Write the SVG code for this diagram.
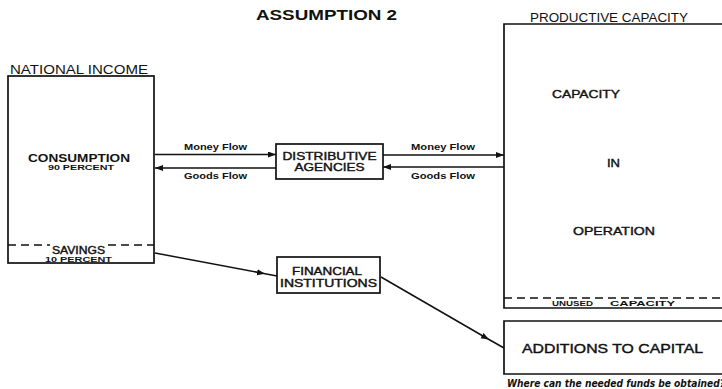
<svg xmlns="http://www.w3.org/2000/svg" width="722" height="389" viewBox="0 0 722 389">
<defs>
<style>
.box{fill:none;stroke:#111;stroke-width:1.7}
.dash{fill:none;stroke:#111;stroke-width:1.5;stroke-dasharray:8 5}
.ln{fill:none;stroke:#111;stroke-width:1.5}
text{font-family:"Liberation Sans","DejaVu Sans",sans-serif;fill:#111}
.t{font-size:13px}
.m{stroke:#111;stroke-width:0.4}
.b{font-weight:bold}
.lbl{font-size:9px;font-weight:bold}
.cap{font-family:"DejaVu Sans Condensed","Liberation Sans",sans-serif;font-size:10px;font-weight:bold;font-style:italic}
</style>
<marker id="ah" markerWidth="9" markerHeight="7" refX="8" refY="3" orient="auto" markerUnits="userSpaceOnUse">
<path d="M0,0 L8,3 L0,6 z" fill="#111"/>
</marker>
</defs>
<rect width="722" height="389" fill="#fff"/>
<text x="256" y="20" class="b" font-size="14" textLength="141" lengthAdjust="spacingAndGlyphs">ASSUMPTION 2</text>

<g id="national-income">
<text x="10" y="74" class="t" textLength="138" lengthAdjust="spacingAndGlyphs">NATIONAL INCOME</text>
<rect x="8" y="76" width="146" height="187" class="box"/>
<line x1="8" y1="245" x2="50" y2="245" class="dash"/>
<line x1="108" y1="245" x2="154" y2="245" class="dash"/>
<text x="28" y="162" font-size="11" class="b" textLength="102" lengthAdjust="spacingAndGlyphs">CONSUMPTION</text>
<text x="48" y="170" font-size="8" class="b" textLength="66" lengthAdjust="spacingAndGlyphs">90 PERCENT</text>
<text x="52" y="254" font-size="10" class="m" textLength="53" lengthAdjust="spacingAndGlyphs">SAVINGS</text>
<text x="45" y="262" font-size="8" class="b" textLength="67" lengthAdjust="spacingAndGlyphs">10 PERCENT</text>
</g>

<g id="distributive-agencies">
<rect x="276" y="144" width="107" height="35" class="box"/>
<text x="329.5" y="160" font-size="10.5" class="m" text-anchor="middle" textLength="94" lengthAdjust="spacingAndGlyphs">DISTRIBUTIVE</text>
<text x="329.5" y="171" font-size="10.5" class="m" text-anchor="middle" textLength="70" lengthAdjust="spacingAndGlyphs">AGENCIES</text>
</g>

<g id="financial-institutions">
<rect x="277" y="257" width="103" height="36" class="box"/>
<text x="327" y="275" font-size="10.5" class="m" text-anchor="middle" textLength="70" lengthAdjust="spacingAndGlyphs">FINANCIAL</text>
<text x="328.5" y="287" font-size="10.5" class="m" text-anchor="middle" textLength="97" lengthAdjust="spacingAndGlyphs">INSTITUTIONS</text>
</g>

<g id="productive-capacity">
<text x="530" y="22" class="t" textLength="158" lengthAdjust="spacingAndGlyphs">PRODUCTIVE CAPACITY</text>
<path d="M730,24 L504,24 L504,308 L730,308" class="box"/>
<line x1="504" y1="298" x2="722" y2="298" class="dash"/>
<text x="586" y="98" font-size="11.5" class="m" text-anchor="middle" textLength="68" lengthAdjust="spacingAndGlyphs">CAPACITY</text>
<text x="613.5" y="167" font-size="11.5" class="m" text-anchor="middle" textLength="13" lengthAdjust="spacingAndGlyphs">IN</text>
<text x="614" y="235" font-size="11.5" class="m" text-anchor="middle" textLength="82" lengthAdjust="spacingAndGlyphs">OPERATION</text>
<text font-size="8" class="b" y="306"><tspan x="552" textLength="41" lengthAdjust="spacingAndGlyphs">UNUSED</tspan><tspan x="610" textLength="65" lengthAdjust="spacingAndGlyphs">CAPACITY</tspan></text>
</g>

<g id="additions-to-capital">
<path d="M730,321 L504,321 L504,374 L730,374" class="box"/>
<text x="522" y="353" font-size="13" class="m" textLength="181" lengthAdjust="spacingAndGlyphs">ADDITIONS TO CAPITAL</text>
<text x="507" y="387" class="cap" textLength="218" lengthAdjust="spacingAndGlyphs">Where can the needed funds be obtained?</text>
</g>

<g id="connectors">
<line x1="155" y1="154.5" x2="276" y2="154.5" class="ln" marker-end="url(#ah)"/>
<line x1="276" y1="168" x2="155" y2="168" class="ln" marker-end="url(#ah)"/>
<line x1="383" y1="155" x2="504" y2="155" class="ln" marker-end="url(#ah)"/>
<line x1="504" y1="167" x2="383" y2="167" class="ln" marker-end="url(#ah)"/>
<polyline points="155,253 265,273.7 277,276" class="ln" marker-mid="url(#ah)"/>
<polyline points="381,277 489,339.5 504,348" class="ln" marker-mid="url(#ah)"/>
<text x="184" y="150" class="lbl" textLength="63" lengthAdjust="spacingAndGlyphs">Money Flow</text>
<text x="184" y="179" class="lbl" textLength="63" lengthAdjust="spacingAndGlyphs">Goods Flow</text>
<text x="411" y="150" class="lbl" textLength="64" lengthAdjust="spacingAndGlyphs">Money Flow</text>
<text x="411" y="179" class="lbl" textLength="64" lengthAdjust="spacingAndGlyphs">Goods Flow</text>
</g>
</svg>
